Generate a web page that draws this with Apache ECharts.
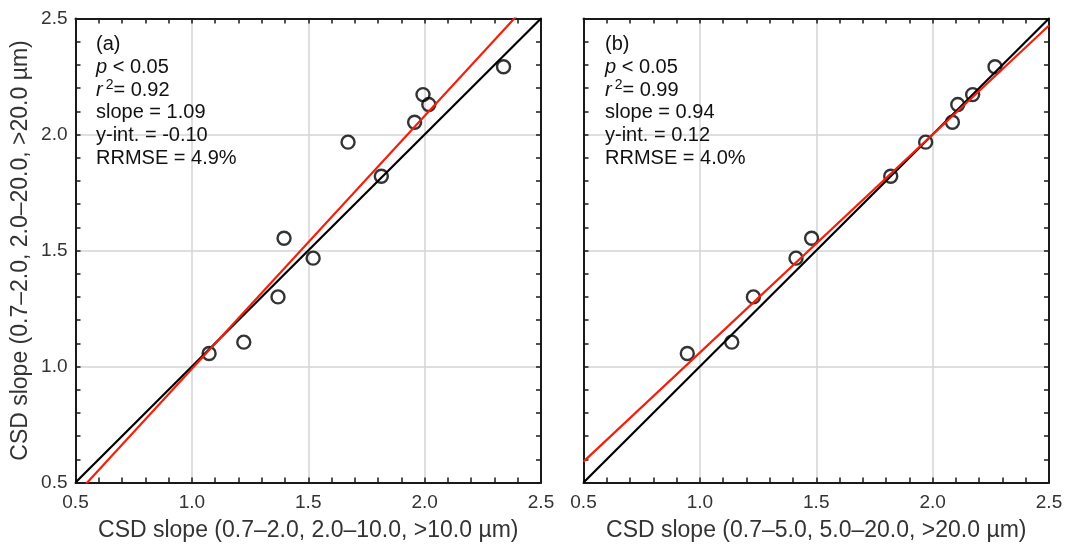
<!DOCTYPE html>
<html>
<head>
<meta charset="utf-8">
<script src="https://cdn.jsdelivr.net/npm/echarts@6/dist/echarts.min.js"></script>
<style>
  html, body { margin: 0; padding: 0; background: #fff; }
  #chart { width: 1066px; height: 548px; }
</style>
</head>
<body>
<div id="chart"></div>
<script>
// CSD slope on the y axis (0.7–2.0, 2.0–20.0, >20.0 µm), shared by both panels
const ySlope = [1.056, 1.105, 1.300, 1.553, 1.467, 1.967, 1.820, 2.053, 2.172, 2.129, 2.292];
// Panel (a) x: CSD slope (0.7–2.0, 2.0–10.0, >10.0 µm)
const xSlopeA = [1.074, 1.223, 1.370, 1.396, 1.521, 1.671, 1.814, 1.957, 1.993, 2.018, 2.339];
// Panel (b) x: CSD slope (0.7–5.0, 5.0–20.0, >20.0 µm)
const xSlopeB = [0.946, 1.137, 1.230, 1.480, 1.413, 1.970, 1.820, 2.085, 2.172, 2.108, 2.268];

// Regression results printed in each panel
const fitA = { slope: 1.09, intercept: -0.10, r2: '0.92', rrmse: '4.9%' };
const fitB = { slope: 0.94, intercept: 0.12, r2: '0.99', rrmse: '4.0%' };

const axisRange = [0.5, 2.5];
const tickStep = 0.5;
const xTitleA = 'CSD slope (0.7–2.0, 2.0–10.0, >10.0 µm)';
const xTitleB = 'CSD slope (0.7–5.0, 5.0–20.0, >20.0 µm)';
const yTitle = 'CSD slope (0.7–2.0, 2.0–20.0, >20.0 µm)';

const FONT = '"Liberation Sans", Arial, Helvetica, sans-serif';
const FRAME = '#1a1a1a';
const LABEL = '#333';

const pairs = xs => xs.map((x, i) => [x, ySlope[i]]);
const fitLine = f => axisRange.map(x => [x, f.slope * x + f.intercept]);
const oneToOne = axisRange.map(v => [v, v]);

function valueAxis(gridIndex, position, opts) {
  const main = position === 'bottom' || position === 'left';
  return Object.assign({
    type: 'value', gridIndex, position,
    min: axisRange[0], max: axisRange[1], interval: tickStep,
    axisLine: { show: true, onZero: false, lineStyle: { color: FRAME, width: 2 } },
    axisTick: { show: true, inside: true, length: 5, lineStyle: { color: FRAME, width: 1.5 } },
    minorTick: { show: true, splitNumber: 5, length: 5, lineStyle: { color: FRAME, width: 1.5 } },
    splitLine: { show: main, lineStyle: { color: '#d4d4d4', width: 1.5 } },
    axisLabel: {
      show: false, color: LABEL, fontFamily: FONT, fontSize: 19,
      formatter: v => v.toFixed(1)
    },
    nameTextStyle: { color: LABEL, fontFamily: FONT, fontSize: 23 }
  }, opts || {});
}

function statsText(tag, f) {
  return [
    '(' + tag + ')',
    '{i|p} < 0.05',
    '{i|r}{sup|2}= ' + f.r2,
    'slope = ' + f.slope.toFixed(2),
    'y-int. = ' + f.intercept.toFixed(2),
    'RRMSE = ' + f.rrmse
  ].join('\n');
}

function statsGraphic(x, tag, f) {
  return {
    type: 'text', left: x, top: 33, z: 100,
    style: {
      text: statsText(tag, f),
      fill: '#111', fontFamily: FONT, fontSize: 20, lineHeight: 22.8,
      rich: {
        i: { fontStyle: 'italic', fontFamily: FONT, fontSize: 20, fill: '#111' },
        sup: { fontSize: 14, fontFamily: FONT, fill: '#111', verticalAlign: 'top', lineHeight: 14, padding: [0, 0, 0, 3] }
      }
    }
  };
}

const labelStyle = margin => ({
  show: true, color: LABEL, fontFamily: FONT, fontSize: 19, margin, formatter: v => v.toFixed(1)
});

const grids = [
  { left: 75.5, top: 18.5, width: 465.5, height: 464, outerBoundsMode: 'none', containLabel: false },
  { left: 583.5, top: 18.5, width: 465.5, height: 464, outerBoundsMode: 'none', containLabel: false }
];

const option = {
  backgroundColor: '#fff',
  animation: false,
  grid: grids,
  xAxis: [
    valueAxis(0, 'bottom', { axisLabel: labelStyle(11), name: xTitleA, nameLocation: 'middle', nameGap: 37 }),
    valueAxis(0, 'top'),
    valueAxis(1, 'bottom', { axisLabel: labelStyle(11), name: xTitleB, nameLocation: 'middle', nameGap: 37 }),
    valueAxis(1, 'top')
  ],
  yAxis: [
    valueAxis(0, 'left', { axisLabel: labelStyle(8), name: yTitle, nameLocation: 'middle', nameGap: 43 }),
    valueAxis(0, 'right'),
    valueAxis(1, 'left'),
    valueAxis(1, 'right')
  ],
  series: [
    {
      type: 'scatter', xAxisIndex: 0, yAxisIndex: 0, data: pairs(xSlopeA),
      symbol: 'circle', symbolSize: 13,
      itemStyle: { color: 'rgba(0,0,0,0)', borderColor: '#000', borderWidth: 2.4 }
    },
    {
      type: 'line', xAxisIndex: 0, yAxisIndex: 0, data: oneToOne, clip: true,
      showSymbol: false, lineStyle: { color: '#000', width: 2.2 }
    },
    {
      type: 'line', xAxisIndex: 0, yAxisIndex: 0, data: fitLine(fitA), clip: true,
      showSymbol: false, lineStyle: { color: '#f0200d', width: 2.2 }
    },
    {
      type: 'scatter', xAxisIndex: 2, yAxisIndex: 2, data: pairs(xSlopeB),
      symbol: 'circle', symbolSize: 13,
      itemStyle: { color: 'rgba(0,0,0,0)', borderColor: '#000', borderWidth: 2.4 }
    },
    {
      type: 'line', xAxisIndex: 2, yAxisIndex: 2, data: oneToOne, clip: true,
      showSymbol: false, lineStyle: { color: '#000', width: 2.2 }
    },
    {
      type: 'line', xAxisIndex: 2, yAxisIndex: 2, data: fitLine(fitB), clip: true,
      showSymbol: false, lineStyle: { color: '#f0200d', width: 2.2 }
    }
  ],
  graphic: [
    statsGraphic(96, 'a', fitA),
    statsGraphic(605, 'b', fitB)
  ]
};

const chart = echarts.init(document.getElementById('chart'), null, { renderer: 'canvas' });
chart.setOption(option);
</script>
</body>
</html>
